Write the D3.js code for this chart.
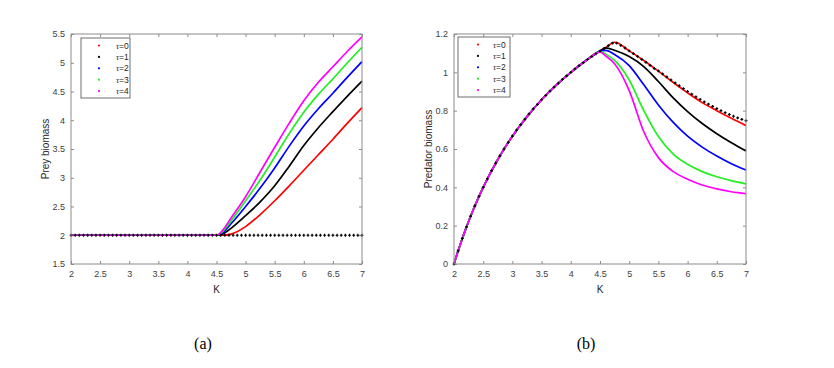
<!DOCTYPE html>
<html><head><meta charset="utf-8">
<script src="https://cdn.jsdelivr.net/npm/d3@7"></script>
<style>
body{margin:0;background:#fff;}
svg{display:block;font-family:"Liberation Sans",Arial,sans-serif;}
</style></head><body>
<svg id="c" width="834" height="368"></svg>
<script>
// ---------- data ----------
const tauLabels = ["0","1","2","3","4"];
const seriesColors = ["#ff0000","#000000","#0000ff","#22ee22","#ff00ff"];
const xTicks = [2,2.5,3,3.5,4,4.5,5,5.5,6,6.5,7];
const preyTicks = [1.5,2,2.5,3,3.5,4,4.5,5,5.5];
const predTicks = [0,0.2,0.4,0.6,0.8,1,1.2];

// Panel (a): prey biomass
const preyK = [2,2.5,3,3.5,4,4.5,4.6,4.75,5,5.25,5.5,5.75,6,6.25,6.5,6.75,7];
const preyTau0 = [2,2,2,2,2,2,2.0,2.02,2.15,2.36,2.6,2.86,3.13,3.4,3.67,3.95,4.22];
const preyTau1 = [2,2,2,2,2,2,2.02,2.12,2.34,2.58,2.86,3.2,3.56,3.87,4.15,4.42,4.68];
const preyTau2 = [2,2,2,2,2,2,2.04,2.2,2.5,2.82,3.17,3.55,3.9,4.2,4.47,4.75,5.02];
const preyTau3 = [2,2,2,2,2,2,2.06,2.25,2.6,2.96,3.36,3.77,4.14,4.45,4.72,5.0,5.27];
const preyTau4 = [2,2,2,2,2,2,2.08,2.3,2.67,3.1,3.53,3.95,4.34,4.66,4.93,5.2,5.45];

// Panel (b): predator biomass
const predK = [2,2.05,2.1,2.2,2.3,2.4,2.5,2.75,3,3.25,3.5,3.75,4,4.25,4.5,4.6,4.75,5,5.25,5.5,5.75,6,6.25,6.5,6.75,7];
const predTau0 = [0,0.049,0.095,0.182,0.261,0.333,0.4,0.545,0.667,0.769,0.857,0.933,1.0,1.059,1.111,1.13,1.157,1.112,1.062,1.006,0.948,0.893,0.842,0.8,0.76,0.722];
const predTau1 = [0,0.049,0.095,0.182,0.261,0.333,0.4,0.545,0.667,0.769,0.857,0.933,1.0,1.059,1.111,1.128,1.115,1.082,1.03,0.952,0.868,0.795,0.733,0.68,0.633,0.59];
const predTau2 = [0,0.049,0.095,0.182,0.261,0.333,0.4,0.545,0.667,0.769,0.857,0.933,1.0,1.059,1.111,1.115,1.093,1.035,0.935,0.83,0.74,0.667,0.61,0.563,0.523,0.49];
const predTau3 = [0,0.049,0.095,0.182,0.261,0.333,0.4,0.545,0.667,0.769,0.857,0.933,1.0,1.059,1.108,1.095,1.062,0.96,0.80,0.665,0.575,0.52,0.482,0.455,0.435,0.418];
const predTau4 = [0,0.049,0.095,0.182,0.261,0.333,0.4,0.545,0.667,0.769,0.857,0.933,1.0,1.059,1.105,1.085,1.045,0.905,0.69,0.555,0.483,0.442,0.412,0.392,0.377,0.367];

// black marker series (dense sampling)
const markerK = [2,2.0714,2.1429,2.2143,2.2857,2.3571,2.4286,2.5,2.5714,2.6429,2.7143,2.7857,2.8571,2.9286,3,3.0714,3.1429,3.2143,3.2857,3.3571,3.4286,3.5,3.5714,3.6429,3.7143,3.7857,3.8571,3.9286,4,4.0714,4.1429,4.2143,4.2857,4.3571,4.4286,4.5,4.5714,4.6429,4.7143,4.7857,4.8571,4.9286,5,5.0714,5.1429,5.2143,5.2857,5.3571,5.4286,5.5,5.5714,5.6429,5.7143,5.7857,5.8571,5.9286,6,6.0714,6.1429,6.2143,6.2857,6.3571,6.4286,6.5,6.5714,6.6429,6.7143,6.7857,6.8571,6.9286,7];
const preyMarkers = [2,2,2,2,2,2,2,2,2,2,2,2,2,2,2,2,2,2,2,2,2,2,2,2,2,2,2,2,2,2,2,2,2,2,2,2,2,2,2,2,2,2,2,2,2,2,2,2,2,2,2,2,2,2,2,2,2,2,2,2,2,2,2,2,2,2,2,2,2,2,2];
const predMarkers = [0,0.069,0.133,0.194,0.25,0.303,0.353,0.4,0.444,0.487,0.526,0.564,0.6,0.634,0.667,0.698,0.727,0.756,0.783,0.809,0.833,0.857,0.88,0.902,0.923,0.943,0.963,0.982,1.0,1.018,1.035,1.051,1.067,1.082,1.097,1.111,1.125,1.139,1.152,1.152,1.14,1.127,1.112,1.098,1.083,1.068,1.052,1.036,1.02,1.008,0.992,0.976,0.961,0.945,0.93,0.915,0.9,0.886,0.872,0.859,0.846,0.834,0.822,0.811,0.8,0.79,0.78,0.771,0.762,0.755,0.748];

// ---------- drawing ----------
const svg = d3.select("#c");
const axisCol = "#8c8c8c", textCol = "#404040";

function panel(opt){
  const x = d3.scaleLinear().domain([2,7]).range([opt.x0, opt.x1]);
  const y = d3.scaleLinear().domain(opt.yDomain).range([opt.y1, opt.y0]);
  const g = svg.append("g");
  g.append("rect").attr("x",opt.x0).attr("y",opt.y0)
    .attr("width",opt.x1-opt.x0).attr("height",opt.y1-opt.y0)
    .attr("fill","#fff");
  const ax = (sel)=>{ sel.select(".domain").remove();
    sel.selectAll("line").attr("stroke",axisCol);
    sel.selectAll("text").attr("fill",textCol).style("font-size","9px"); };
  g.append("g").attr("transform",`translate(0,${opt.y1})`)
    .call(d3.axisBottom(x).tickValues(xTicks).tickSize(-3).tickPadding(7).tickFormat(d3.format("")))
    .call(ax);
  g.append("g").attr("transform",`translate(0,${opt.y0})`)
    .call(d3.axisTop(x).tickValues(xTicks).tickSize(-3).tickFormat(""))
    .call(ax);
  g.append("g").attr("transform",`translate(${opt.x0},0)`)
    .call(d3.axisLeft(y).tickValues(opt.yTicks).tickSize(-3).tickPadding(6).tickFormat(d3.format("")))
    .call(ax);
  g.append("g").attr("transform",`translate(${opt.x1},0)`)
    .call(d3.axisRight(y).tickValues(opt.yTicks).tickSize(-3).tickFormat(""))
    .call(ax);
  g.selectAll(".tick text").attr("font-family","Liberation Sans, Arial, sans-serif");

  const line = d3.line().x(d=>x(d[0])).y(d=>y(d[1])).curve(d3.curveMonotoneX);
  opt.series.forEach((s,i)=>{
    g.append("path").datum(opt.k.map((k,j)=>[k,s[j]]))
      .attr("d",line).attr("fill","none")
      .attr("stroke",seriesColors[i]).attr("stroke-width",1.7);
  });
  const mk = g.append("g");
  markerK.forEach((k,j)=>{
    const cx = x(k), cy = y(opt.markers[j]);
    mk.append("path").attr("d",`M${cx-1.4},${cy}H${cx+1.4}M${cx},${cy-1.4}V${cy+1.4}`)
      .attr("stroke","#000").attr("stroke-width",1.2);
  });
  g.append("rect").attr("x",opt.x0).attr("y",opt.y0)
    .attr("width",opt.x1-opt.x0).attr("height",opt.y1-opt.y0)
    .attr("fill","none").attr("stroke",axisCol).attr("stroke-width",1);

  g.append("text").attr("x",(opt.x0+opt.x1)/2).attr("y",opt.y1+29)
    .attr("text-anchor","middle").attr("fill","#262626").style("font-size","10px").text("K");
  g.append("text").attr("transform",`translate(${opt.yLabX},${(opt.y0+opt.y1)/2}) rotate(-90)`)
    .attr("text-anchor","middle").attr("fill","#262626").style("font-size","10px").text(opt.yLabel);

  const L = opt.legend;
  g.append("rect").attr("x",L.x).attr("y",L.y).attr("width",L.w).attr("height",L.h)
    .attr("fill","#fff").attr("stroke","#6e6e6e").attr("stroke-width",1);
  tauLabels.forEach((t,i)=>{
    const yy = L.y + 7.5 + i*11.4;
    g.append("circle").attr("cx",L.x+L.mx).attr("cy",yy).attr("r",1.1).attr("fill",seriesColors[i]);
    const tx = g.append("text").attr("x",L.x+L.tx).attr("y",yy+3)
      .attr("fill","#262626").style("font-size","8.5px");
    tx.append("tspan").attr("font-family","Liberation Serif, serif").style("font-style","italic").text("τ");
    tx.append("tspan").text("=" + t);
  });

  svg.append("text").attr("x",opt.capX).attr("y",349).attr("text-anchor","middle")
    .attr("font-family","Liberation Serif, DejaVu Serif, serif").style("font-size","16px")
    .attr("fill","#000").text(opt.caption);
}

panel({x0:71,x1:362,y0:34,y1:264,yDomain:[1.5,5.5],yTicks:preyTicks,
  k:preyK, series:[preyTau0,preyTau1,preyTau2,preyTau3,preyTau4], markers:preyMarkers,
  yLabel:"Prey biomass", yLabX:49,
  legend:{x:81,y:38,w:49,h:60,mx:18,tx:35}, caption:"(a)", capX:203});

panel({x0:454,x1:746,y0:34,y1:264,yDomain:[0,1.2],yTicks:predTicks,
  k:predK, series:[predTau0,predTau1,predTau2,predTau3,predTau4], markers:predMarkers,
  yLabel:"Predator biomass", yLabX:432,
  legend:{x:458,y:37,w:52,h:60,mx:20,tx:35}, caption:"(b)", capX:586});
</script>
</body></html>
